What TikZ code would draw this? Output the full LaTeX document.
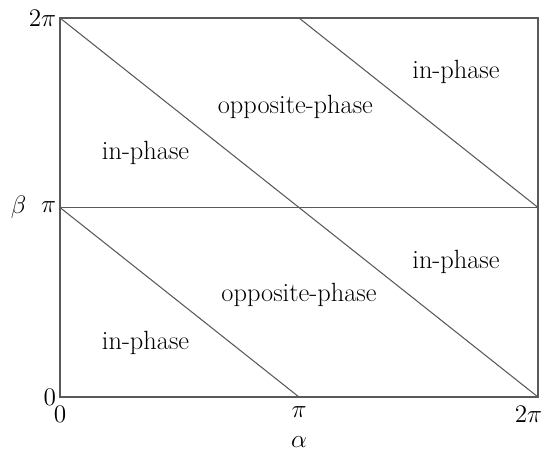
\documentclass[tikz,border=0pt]{standalone}
\usepackage{amsmath,amssymb}
\usepackage{tikz}
\begin{document}
\begin{tikzpicture}[x=4.78cm,y=3.79cm,ln/.style={draw=black!65,line width=0.6pt},lbl/.style={font=\fontsize{15}{18}\selectfont},tick/.style={font=\fontsize{15.5}{18}\selectfont,inner sep=2pt}]
\useasboundingbox (-0.251,-0.2955) rectangle (2.0586,2.095);
\coordinate (o) at (0,0);
\coordinate (xp) at (1,0);
\coordinate (x2) at (2,0);
\coordinate (yp) at (0,1);
\coordinate (y2) at (0,2);
\coordinate (tp) at (1,2);
\coordinate (rp) at (2,1);
\coordinate (tr) at (2,2);
\draw[ln] (o) rectangle (tr);
\draw[ln] (yp) -- (rp);
\draw[ln] (y2) -- (x2);
\draw[ln] (yp) -- (xp);
\draw[ln] (tp) -- (rp);
\node[lbl] (ip1) at (1.657,1.715) {in-phase};
\node[lbl] (op1) at (0.985,1.53) {opposite-phase};
\node[lbl] (ip2) at (0.358,1.288) {in-phase};
\node[lbl] (ip3) at (1.657,0.712) {in-phase};
\node[lbl] (op2) at (1.0,0.538) {opposite-phase};
\node[lbl] (ip4) at (0.358,0.285) {in-phase};
\node[tick,anchor=east] (ly2) at (y2) {$2\pi$};
\node[tick,anchor=east] (lyp) at (yp) {$\pi$};
\node[tick,anchor=east] (ly0) at (o) {$0$};
\node[tick,anchor=east] (beta) at (-0.125,1) {$\beta$};
\node[tick,anchor=north] (lx0) at (0,-0.03) {$0$};
\node[tick,anchor=north] (lxp) at (xp |- lx0.north) {$\pi$};
\node[tick,anchor=north] (lx2) at (1.96,-0.03) {$2\pi$};
\node[tick] (alpha) at (1,-0.24) {$\alpha$};
\end{tikzpicture}
\end{document}
